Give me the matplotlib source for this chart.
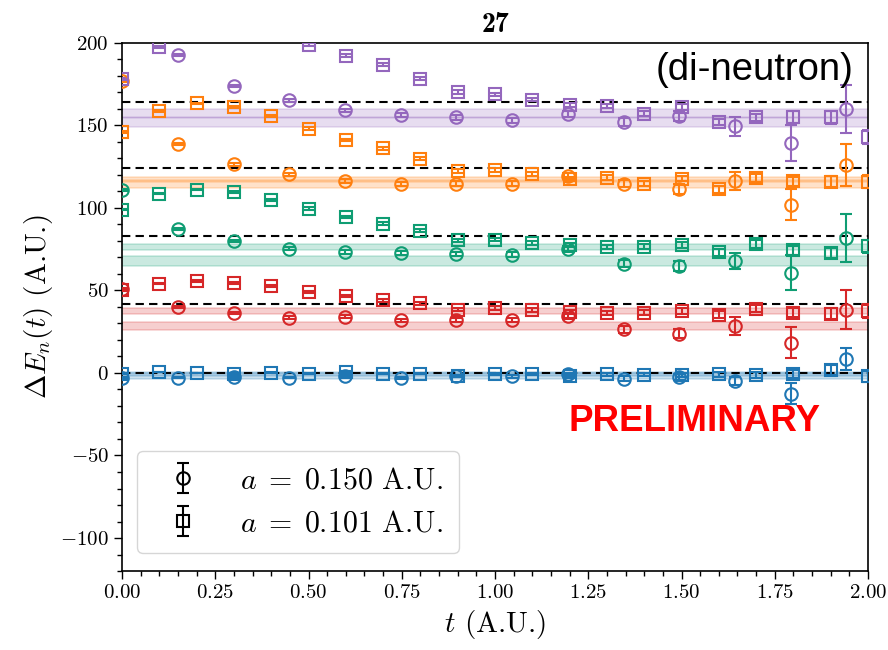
import numpy as np
import matplotlib
matplotlib.use("Agg")
import matplotlib.pyplot as plt
from matplotlib.ticker import AutoMinorLocator

plt.rcParams['font.family'] = 'serif'
plt.rcParams['font.serif'] = ['cmr10']
plt.rcParams['mathtext.fontset'] = 'cm'
plt.rcParams['axes.formatter.use_mathtext'] = True

nan = np.nan
# time grids
t_c = [0.0, 0.149, 0.299, 0.448, 0.598, 0.747, 0.896, 1.046, 1.195, 1.345, 1.494, 1.643, 1.793, 1.942]
t_s = [0.0, 0.1, 0.2, 0.3, 0.4, 0.5, 0.6, 0.7, 0.8, 0.9, 1.0, 1.1, 1.2, 1.3, 1.4, 1.5, 1.6, 1.7, 1.8, 1.9, 2.0]

colors = ['#1f77b4', '#d62728', '#0f9d73', '#ff7f0e', '#9467bd']

# a = 0.150 (circles)
blue_c = [-2.8, -2.8, -2.4, -2.8, -2.0, -3.0, -2.0, -2.0, -0.8, -3.4, -2.4, -4.8, -12.5, 8.7]
blue_c_err = [0.3, 0.3, 0.4, 0.5, 0.5, 0.6, 0.7, 0.8, 1.0, 1.3, 1.8, 2.5, 6.5, 6.7]
red_c = [51.0, 40.0, 36.4, 33.6, 34.0, 31.9, 31.9, 31.9, 34.6, 26.5, 23.9, 28.5, 18.2, 38.4]
red_c_err = [0.5, 0.6, 0.7, 0.8, 0.9, 1.0, 1.2, 1.3, 1.6, 2.0, 3.0, 5.3, 9.4, 12.0]
green_c = [111.0, 87.3, 80.0, 75.4, 73.3, 72.7, 72.3, 71.7, 75.2, 66.3, 64.9, 67.7, 60.8, 81.8]
green_c_err = [0.5, 0.7, 0.8, 0.9, 1.0, 1.1, 1.3, 1.5, 1.8, 2.2, 3.0, 5.0, 10.4, 14.6]
orange_c = [177.0, 138.6, 126.5, 120.4, 116.4, 114.4, 114.8, 114.8, 119.2, 114.8, 111.7, 116.4, 102.0, 125.9]
orange_c_err = [0.6, 0.7, 0.8, 0.9, 1.0, 1.1, 1.3, 1.5, 1.8, 2.2, 3.0, 5.6, 9.6, 12.6]
purple_c = [nan, 192.5, 173.8, 165.3, 159.2, 156.2, 154.8, 153.2, 156.8, 152.1, 155.6, 149.5, 139.4, 159.8]
purple_c_err = [0.6, 0.7, 0.8, 0.9, 1.0, 1.1, 1.3, 1.5, 1.8, 2.2, 3.0, 5.8, 11.0, 14.5]

# a = 0.101 (squares)
blue_s = [-0.5, 0.6, 0.0, -0.4, 0.0, -0.4, 0.6, -0.4, -0.4, -2.0, -0.6, -0.8, -2.0, -0.8, -1.0, -1.4, -0.8, -1.4, -0.8, 1.6, -2.0]
blue_s_err = [0.2, 0.2, 0.2, 0.3, 0.3, 0.3, 0.4, 0.4, 0.5, 0.5, 0.6, 0.7, 0.8, 0.9, 1.0, 1.2, 1.5, 1.8, 2.5, 3.0, 3.5]
red_s = [50.1, 54.2, 55.6, 54.5, 52.5, 49.1, 46.5, 44.1, 42.1, 38.4, 39.3, 38.0, 37.0, 36.4, 36.4, 37.6, 35.4, 39.0, 36.6, 36.0, 37.6]
red_s_err = [0.5, 0.5, 0.5, 0.6, 0.6, 0.7, 0.7, 0.8, 0.9, 1.0, 1.0, 1.1, 1.2, 1.3, 1.5, 1.7, 2.0, 2.3, 2.8, 3.3, 4.0]
green_s = [99.0, 108.7, 111.1, 109.7, 105.1, 99.6, 94.6, 90.5, 86.1, 80.4, 80.8, 78.8, 77.4, 76.4, 76.4, 77.4, 73.0, 78.0, 74.4, 72.7, 76.8]
green_s_err = [0.5, 0.5, 0.5, 0.6, 0.6, 0.7, 0.7, 0.8, 0.9, 1.0, 1.0, 1.1, 1.2, 1.3, 1.5, 1.7, 2.0, 2.3, 2.8, 3.3, 4.0]
orange_s = [146.0, 158.8, 163.3, 161.2, 155.6, 148.1, 141.0, 136.2, 129.7, 122.4, 123.0, 120.4, 117.8, 118.4, 114.8, 117.8, 111.3, 118.2, 116.2, 115.8, 115.8]
orange_s_err = [0.5, 0.5, 0.5, 0.6, 0.6, 0.7, 0.7, 0.8, 0.9, 1.0, 1.0, 1.1, 1.2, 1.3, 1.5, 1.7, 2.0, 2.3, 2.8, 3.3, 4.0]
purple_s = [178.0, 197.6, nan, nan, nan, 199.0, 192.3, 186.9, 178.4, 170.3, 168.8, 165.7, 162.2, 161.8, 157.2, 161.2, 152.1, 154.8, 155.2, 154.8, 143.0]
purple_s_err = [0.5, 0.5, 0.5, 0.6, 0.6, 0.7, 0.7, 0.8, 0.9, 1.0, 1.0, 1.1, 1.2, 1.3, 1.5, 1.7, 2.0, 2.3, 3.5, 4.0, 4.5]

# non-interacting levels (dashed)
levels = [0.0, 42.0, 83.2, 124.0, 164.2]
# fit bands: (center, half width), two per level
bands = [
    [(-0.5, 1.2), (-2.0, 1.8)],
    [(37.8, 1.8), (28.4, 2.5)],
    [(76.6, 1.8), (67.9, 2.8)],
    [(117.0, 1.5), (114.5, 2.2)],
    [(157.3, 2.7), (152.0, 3.2)],
]

circ = [(blue_c, blue_c_err), (red_c, red_c_err), (green_c, green_c_err),
        (orange_c, orange_c_err), (purple_c, purple_c_err)]
sq = [(blue_s, blue_s_err), (red_s, red_s_err), (green_s, green_s_err),
      (orange_s, orange_s_err), (purple_s, purple_s_err)]

fig = plt.figure(figsize=(8.88, 6.5), dpi=100)
ax = fig.add_axes([0.1374, 0.1215, 0.8401, 0.8125])
ax.set_xlim(0, 2.0)
ax.set_ylim(-120, 200)

xs = np.array([0.0, 2.0])
for col, blist in zip(colors, bands):
    for c, hw in blist:
        ax.fill_between(xs, c - hw, c + hw, color=col, alpha=0.22, lw=0, zorder=1)
        ax.plot(xs, [c - hw] * 2, color=col, alpha=0.2, lw=1.2, zorder=1)
        ax.plot(xs, [c + hw] * 2, color=col, alpha=0.2, lw=1.2, zorder=1)

for lv in levels:
    ax.axhline(lv, color='k', ls=(0, (4, 2.5)), lw=1.5, zorder=2)

for col, (y, e) in zip(colors, circ):
    ax.errorbar(t_c, y, yerr=e, fmt='o', ms=9, mfc='none', mec=col, mew=1.5,
                color=col, ecolor=col, elinewidth=1.5, capsize=4, capthick=1.5, zorder=3)
for col, (y, e) in zip(colors, sq):
    ax.errorbar(t_s, y, yerr=e, fmt='s', ms=9, mfc='none', mec=col, mew=1.5,
                color=col, ecolor=col, elinewidth=1.5, capsize=4, capthick=1.5, zorder=3)

# legend proxies (no visible data)
h1 = ax.errorbar([nan], [nan], yerr=[1.0], fmt='o', ms=9, mfc='none', mec='k', mew=1.5, color='k',
                 elinewidth=1.5, capsize=4, capthick=1.5, label=r'$a\;=\;0.150$ A.U.')
h2 = ax.errorbar([nan], [nan], yerr=[1.0], fmt='s', ms=9, mfc='none', mec='k', mew=1.5, color='k',
                 elinewidth=1.5, capsize=4, capthick=1.5, label=r'$a\;=\;0.101$ A.U.')
ax.legend(handles=[h1, h2], loc='lower left', fontsize=21.5, bbox_to_anchor=(0.0, 0.005),
          handletextpad=0.9, borderpad=0.55, labelspacing=0.5)

ax.xaxis.set_minor_locator(AutoMinorLocator())
ax.yaxis.set_minor_locator(AutoMinorLocator())
ax.set_xticks([0, 0.25, 0.5, 0.75, 1.0, 1.25, 1.5, 1.75, 2.0])
ax.set_yticks([-100, -50, 0, 50, 100, 150, 200])
ax.tick_params(axis='both', which='major', labelsize=15, length=6, width=1)
ax.tick_params(axis='both', which='minor', length=3.5, width=1)
for s in ax.spines.values():
    s.set_linewidth(1.2)

ax.set_xlabel(r'$t$ (A.U.)', fontsize=21)
ax.set_ylabel(r'$\Delta E_n(t)$ (A.U.)', fontsize=21)
ax.set_title('27', fontsize=20, family='cmb10', pad=8)

ax.text(0.98, 0.949, '(di-neutron)', transform=ax.transAxes, ha='right', va='center',
        fontsize=27.5, family='Liberation Sans', zorder=5)
ax.text(0.936, 0.284, 'PRELIMINARY', transform=ax.transAxes, ha='right', va='center',
        fontsize=26.5, family='Liberation Sans', weight='bold', color='red', zorder=5)

fig.savefig('out.png', dpi=100)
